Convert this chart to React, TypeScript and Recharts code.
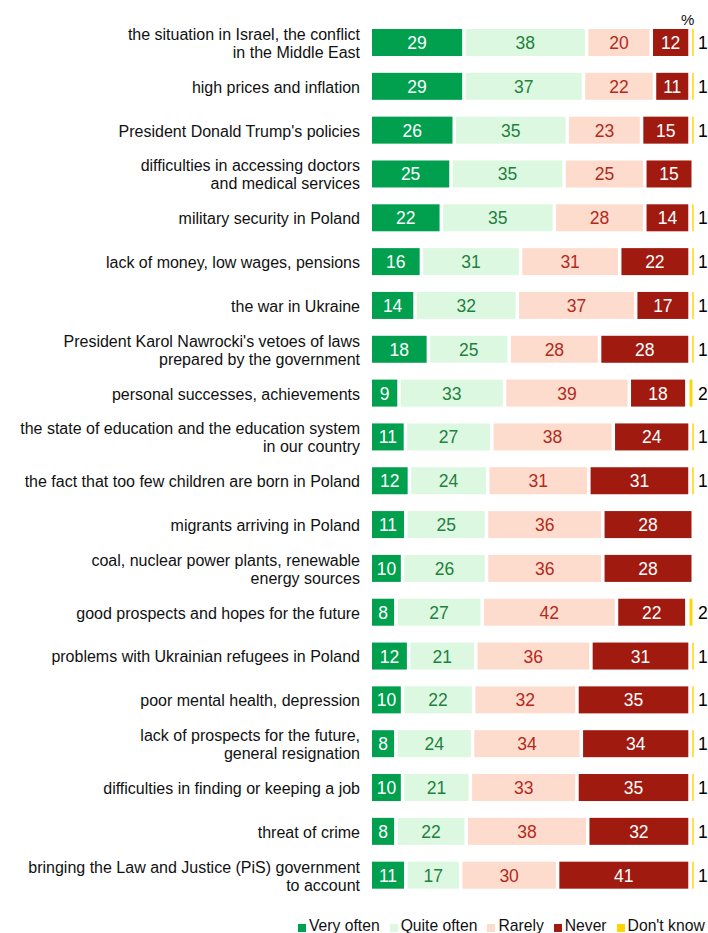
import React from "react";
import { BarChart, Bar, XAxis, YAxis, LabelList } from "recharts";

const categories = [
  "the situation in Israel, the conflict\nin the Middle East",
  "high prices and inflation",
  "President Donald Trump's policies",
  "difficulties in accessing doctors\nand medical services",
  "military security in Poland",
  "lack of money, low wages, pensions",
  "the war in Ukraine",
  "President Karol Nawrocki's vetoes of laws\nprepared by the government",
  "personal successes, achievements",
  "the state of education and the education system\nin our country",
  "the fact that too few children are born in Poland",
  "migrants arriving in Poland",
  "coal, nuclear power plants, renewable\nenergy sources",
  "good prospects and hopes for the future",
  "problems with Ukrainian refugees in Poland",
  "poor mental health, depression",
  "lack of prospects for the future,\ngeneral resignation",
  "difficulties in finding or keeping a job",
  "threat of crime",
  "bringing the Law and Justice (PiS) government\nto account",
];

const veryOften = [29, 29, 26, 25, 22, 16, 14, 18, 9, 11, 12, 11, 10, 8, 12, 10, 8, 10, 8, 11];
const quiteOften = [38, 37, 35, 35, 35, 31, 32, 25, 33, 27, 24, 25, 26, 27, 21, 22, 24, 21, 22, 17];
const rarely = [20, 22, 23, 25, 28, 31, 37, 28, 39, 38, 31, 36, 36, 42, 36, 32, 34, 33, 38, 30];
const never = [12, 11, 15, 15, 14, 22, 17, 28, 18, 24, 31, 28, 28, 22, 31, 35, 34, 35, 32, 41];
const dontKnow = [1, 1, 1, 0, 1, 1, 1, 1, 2, 1, 1, 0, 0, 2, 1, 1, 1, 1, 1, 1];

const seriesNames = ["Very often", "Quite often", "Rarely", "Never", "Don't know"];
const seriesKeys = ["vo", "qo", "ra", "ne", "dk"];
const seriesColors = ["#00A04F", "#DDF8E0", "#FDDCCD", "#A01A10", "#FFD500"];
const labelColors = ["#ffffff", "#1F8040", "#B32A1C", "#ffffff", "#000000"];

const data = categories.map((c, i) => ({
  name: c,
  vo: veryOften[i],
  qo: quiteOften[i],
  ra: rarely[i],
  ne: never[i],
  dk: dontKnow[i],
}));

const FONT = "'Liberation Sans', Arial, sans-serif";
const GAP = 3.5;

const GapRect = (props: any) => {
  const { x, y, width, height, fill } = props;
  if (!width || width <= 0) return null;
  const w = Math.max(width - GAP, 0.5);
  return <rect x={x} y={y} width={w} height={height} fill={fill} />;
};

const DkRect = (props: any) => {
  const { x, y, width, height, fill } = props;
  if (!width || width <= 0) return null;
  return <rect x={x + width * 0.15} y={y} width={width * 0.45} height={height} fill={fill} />;
};

const makeInnerLabel = (color: string) => (props: any) => {
  const vb = props.viewBox || props;
  const { x, y, width, height } = vb;
  const value = props.value;
  if (!value) return null;
  return (
    <text
      x={x + (width - GAP) / 2}
      y={y + height / 2 + 0.5}
      textAnchor="middle"
      dominantBaseline="central"
      fill={color}
      fontFamily={FONT}
      fontSize={17.5}
    >
      {value}
    </text>
  );
};

const DkLabel = (props: any) => {
  const vb = props.viewBox || props;
  const { x, y, width, height } = vb;
  const value = props.value;
  if (!value) return null;
  return (
    <text
      x={x + width + 3}
      y={y + height / 2 + 0.5}
      textAnchor="start"
      dominantBaseline="central"
      fill="#000"
      fontFamily={FONT}
      fontSize={17.5}
    >
      {value}
    </text>
  );
};

const CategoryTick = (props: any) => {
  const { y, payload } = props;
  const lines = String(payload.value).split("\n");
  const lh = 18;
  const start = -((lines.length - 1) * lh) / 2;
  return (
    <text
      x={360}
      y={y + 0.5}
      textAnchor="end"
      fill="#111"
      fontFamily={FONT}
      fontSize={16}
    >
      {lines.map((l, i) => (
        <tspan key={i} x={360} dy={i === 0 ? start : lh} dominantBaseline="central">
          {l}
        </tspan>
      ))}
    </text>
  );
};

export default function App() {
  return (
    <div style={{ position: "absolute", left: 0, top: 0, width: 708, height: 933, background: "#fff" }}>
      <BarChart
        width={708}
        height={933}
        data={data}
        layout="vertical"
        stackOffset="expand"
        margin={{ top: 21, right: 13, bottom: 35.5, left: 0 }}
        barSize={27}
      >
        <XAxis type="number" domain={[0, 1]} hide />
        <YAxis
          type="category"
          dataKey="name"
          width={372}
          axisLine={false}
          tickLine={false}
          tick={<CategoryTick />}
          interval={0}
        />
        {seriesKeys.map((k, si) => (
          <Bar
            key={k}
            dataKey={k}
            name={seriesNames[si]}
            stackId="a"
            fill={seriesColors[si]}
            isAnimationActive={false}
            shape={si === 4 ? <DkRect /> : <GapRect />}
          >
            <LabelList
              dataKey={k}
              content={si === 4 ? DkLabel : makeInnerLabel(labelColors[si])}
            />
          </Bar>
        ))}
      </BarChart>
      <div
        style={{
          position: "absolute",
          left: 681,
          top: 11,
          fontFamily: FONT,
          fontSize: 15,
          color: "#111",
        }}
      >
        %
      </div>
      <div
        style={{
          position: "absolute",
          left: 298,
          top: 917,
          display: "flex",
          alignItems: "center",
          fontFamily: FONT,
          fontSize: 15.7,
          color: "#111",
          whiteSpace: "nowrap",
        }}
      >
        {seriesNames.map((n, i) => (
          <div key={n} style={{ display: "flex", alignItems: "center", marginRight: 10 }}>
            <span
              style={{
                display: "inline-block",
                width: 8,
                height: 8,
                background: seriesColors[i],
                marginRight: 3,
                marginTop: 3,
              }}
            />
            <span>{n}</span>
          </div>
        ))}
      </div>
    </div>
  );
}
